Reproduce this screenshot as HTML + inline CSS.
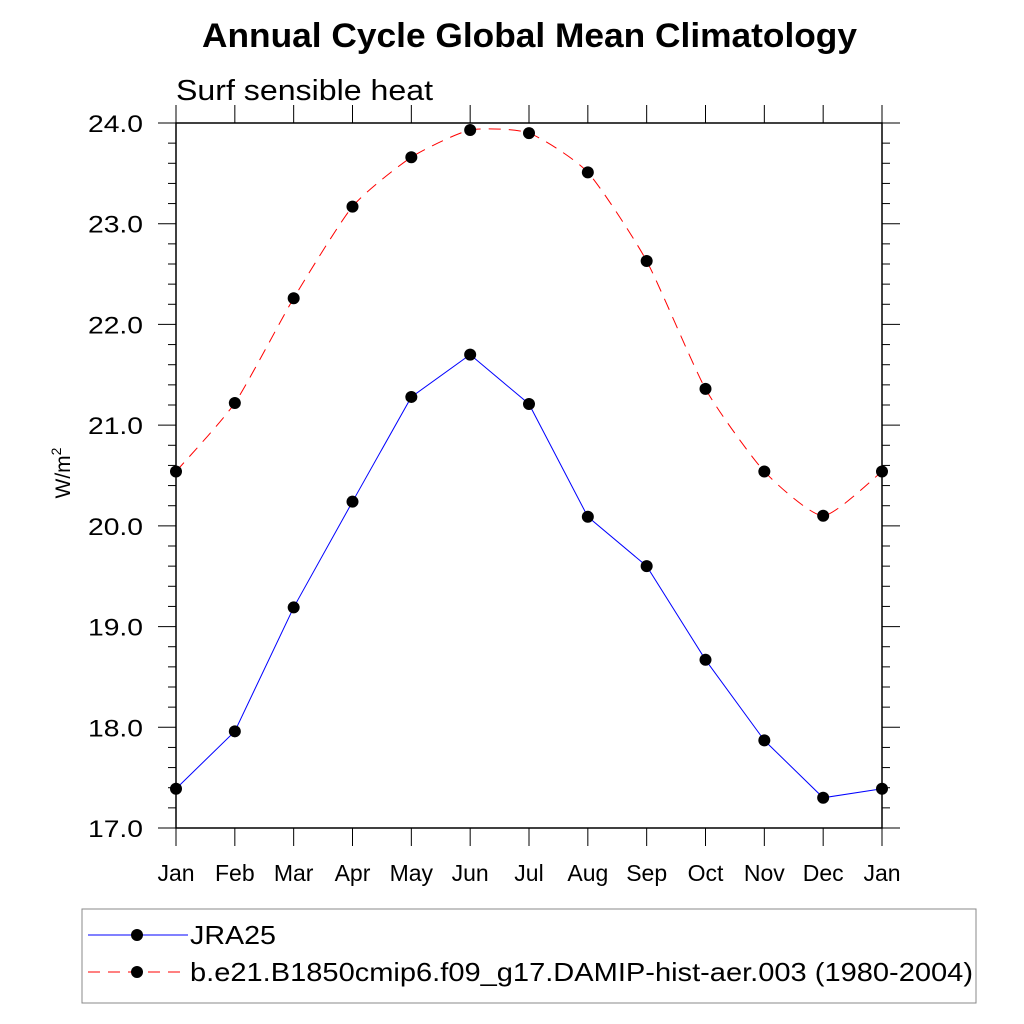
<!DOCTYPE html>
<html><head><meta charset="utf-8"><style>
body{margin:0;background:#fff}
svg{display:block;font-family:"Liberation Sans",sans-serif}
</style></head><body>
<svg id="c" width="1024" height="1024" xmlns="http://www.w3.org/2000/svg">
<text x="202" y="47" font-size="34" font-weight="bold" textLength="655" lengthAdjust="spacingAndGlyphs">Annual Cycle Global Mean Climatology</text>
<text x="176" y="100" font-size="29" textLength="257" lengthAdjust="spacingAndGlyphs">Surf sensible heat</text>
<text transform="translate(70,473) rotate(-90)" text-anchor="middle" font-size="21">W/m<tspan dy="-9" font-size="14">2</tspan></text>
<g id="axes"></g>
<g id="series"></g>
<g>
<rect x="82" y="909" width="894" height="94" fill="none" stroke="#888" stroke-width="1"/>
<g>
<line x1="88" y1="935" x2="188" y2="935" stroke="#00f" stroke-width="1"/>
<circle cx="137" cy="935" r="6" fill="#000"/>
<text x="190" y="944" font-size="26" textLength="86" lengthAdjust="spacingAndGlyphs">JRA25</text></g>
<g>
<line x1="88" y1="972" x2="188" y2="972" stroke="#f00" stroke-width="1" stroke-dasharray="12,8"/>
<circle cx="137" cy="972" r="6" fill="#000"/>
<text x="190" y="981" font-size="26" textLength="783" lengthAdjust="spacingAndGlyphs">b.e21.B1850cmip6.f09_g17.DAMIP-hist-aer.003 (1980-2004)</text></g>
</g>
</svg>
<script>
const months=["Jan","Feb","Mar","Apr","May","Jun","Jul","Aug","Sep","Oct","Nov","Dec","Jan"];
const jra25=[17.39,17.96,19.19,20.24,21.28,21.70,21.21,20.09,19.60,18.67,17.87,17.30,17.39];
const model=[20.54,21.22,22.26,23.17,23.66,23.93,23.90,23.51,22.63,21.36,20.54,20.10,20.54];
const yTicks=[17,18,19,20,21,22,23,24];
const NS="http://www.w3.org/2000/svg";
const L=176,R=882,T=123,B=828,yMin=17,yMax=24;
const xs=i=>L+(R-L)*i/(months.length-1);
const ys=v=>B-(v-yMin)/(yMax-yMin)*(B-T);
function mk(t,a,p){const e=document.createElementNS(NS,t);for(const k in a)e.setAttribute(k,a[k]);p.appendChild(e);return e;}
const ax=document.getElementById('axes'),se=document.getElementById('series');
const frame=mk('rect',{x:L,y:T,width:R-L,height:B-T,fill:'none',stroke:'#000','stroke-width':1.5},ax);


for(let v=yMin;v<=yMax+1e-9;v+=0.2){const y=ys(v);const maj=Math.abs(v-Math.round(v))<1e-6;const len=maj?18:8;
mk('line',{x1:L-len,y1:y,x2:L,y2:y,stroke:'#000','stroke-width':1},ax);
mk('line',{x1:R,y1:y,x2:R+len,y2:y,stroke:'#000','stroke-width':1},ax);}
yTicks.forEach(v=>{const t=mk('text',{x:143,y:ys(v)+9,'text-anchor':'end','font-size':24,textLength:55,lengthAdjust:'spacingAndGlyphs'},ax);t.textContent=v.toFixed(1);

});
months.forEach((m,i)=>{const x=xs(i);
mk('line',{x1:x,y1:B,x2:x,y2:B+18,stroke:'#000','stroke-width':1},ax);
mk('line',{x1:x,y1:T-18,x2:x,y2:T,stroke:'#000','stroke-width':1},ax);
const t=mk('text',{x:x,y:B+53,'text-anchor':'middle','font-size':23},ax);t.textContent=m;

});
function spline(vals){const p=vals.map((v,i)=>[xs(i),ys(v)]);let d=`M${p[0][0]},${p[0][1]}`;const k=10;
for(let i=0;i<p.length-1;i++){const p0=p[i-1]||p[i],p1=p[i],p2=p[i+1],p3=p[i+2]||p2;
d+=` C${p1[0]+(p2[0]-p0[0])/k},${p1[1]+(p2[1]-p0[1])/k} ${p2[0]-(p3[0]-p1[0])/k},${p2[1]-(p3[1]-p1[1])/k} ${p2[0]},${p2[1]}`;}return d;}
const ml=mk('path',{d:spline(model),fill:'none',stroke:'#f00','stroke-width':1,'stroke-dasharray':'12,8'},se);


const jl=mk('polyline',{points:jra25.map((v,i)=>xs(i)+','+ys(v)).join(' '),fill:'none',stroke:'#00f','stroke-width':1},se);


model.forEach((v,i)=>{const c=mk('circle',{cx:xs(i),cy:ys(v),r:6,fill:'#000'},se);

});
jra25.forEach((v,i)=>{const c=mk('circle',{cx:xs(i),cy:ys(v),r:6,fill:'#000'},se);

});
</script>
</body></html>
